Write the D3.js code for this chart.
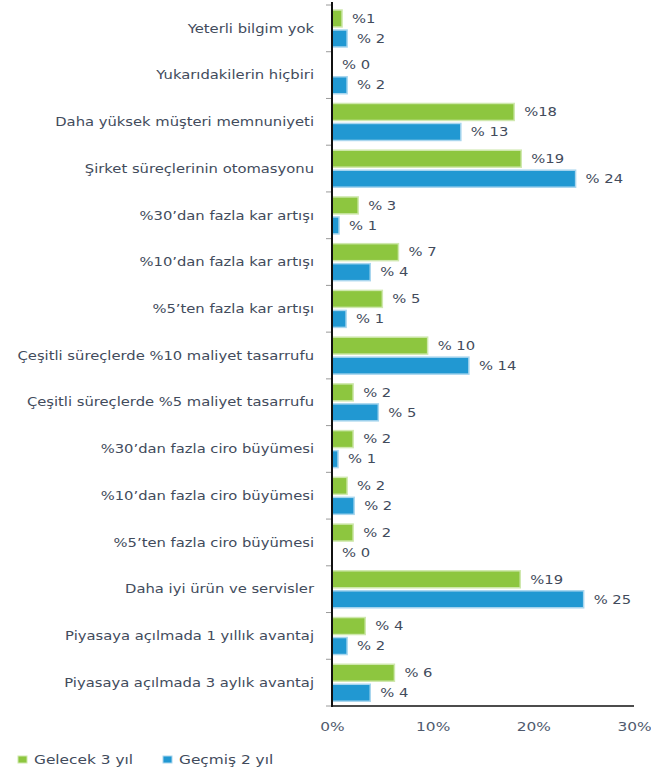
<!DOCTYPE html>
<html>
<head>
<meta charset="utf-8">
<script src="https://cdn.jsdelivr.net/npm/d3@7"></script>
<style>
  body { margin: 0; background: #fff; }
  text { font-family: "DejaVu Sans", sans-serif; }
</style>
</head>
<body>
<div id="chart"></div>
<script>
// Chart data
var categories = [
  "Yeterli bilgim yok",
  "Yukarıdakilerin hiçbiri",
  "Daha yüksek müşteri memnuniyeti",
  "Şirket süreçlerinin otomasyonu",
  "%30’dan fazla kar artışı",
  "%10’dan fazla kar artışı",
  "%5’ten fazla kar artışı",
  "Çeşitli süreçlerde %10 maliyet tasarrufu",
  "Çeşitli süreçlerde %5 maliyet tasarrufu",
  "%30’dan fazla ciro büyümesi",
  "%10’dan fazla ciro büyümesi",
  "%5’ten fazla ciro büyümesi",
  "Daha iyi ürün ve servisler",
  "Piyasaya açılmada 1 yıllık avantaj",
  "Piyasaya açılmada 3 aylık avantaj"
];
var seriesNames = ["Gelecek 3 yıl", "Geçmiş 2 yıl"];

// bar lengths
var futureValues = [1.0, 0, 18.1, 18.8, 2.6, 6.6, 5.0, 9.5, 2.1, 2.1, 1.5, 2.1, 18.7, 3.3, 6.2];
var pastValues = [1.5, 1.5, 12.8, 24.2, 0.7, 3.8, 1.4, 13.6, 4.6, 0.6, 2.2, 0, 25.0, 1.5, 3.8];

// printed value labels
var futureLabels = ["%1", "% 0", "%18", "%19", "% 3", "% 7", "% 5", "% 10", "% 2", "% 2", "% 2", "% 2", "%19", "% 4", "% 6"];
var pastLabels = ["% 2", "% 2", "% 13", "% 24", "% 1", "% 4", "% 1", "% 14", "% 5", "% 1", "% 2", "% 0", "% 25", "% 2", "% 4"];

var xTicks = [0, 10, 20, 30];

var svgWidth = 651;
var svgHeight = 768;
var margin = { top: 5, left: 332, right: 17, bottom: 62 };

// the original text is drawn wide, so glyphs get stretched sideways
var sx = 1.23;
var fontSize = "12px";

var svg = d3.select("#chart")
  .append("svg")
  .attr("width", svgWidth)
  .attr("height", svgHeight);

var x = d3.scaleLinear()
  .domain([0, 30])
  .range([margin.left, svgWidth - margin.right]);

var y = d3.scaleBand()
  .domain(categories)
  .range([margin.top, svgHeight - margin.bottom]);

var colors = { future: "#8dc63f", past: "#2198d2" };
var edges = { future: "#cfe8ae", past: "#a9d6ee" };
var textColor = "#424b5c";

var rows = categories.map(function (c, i) {
  return {
    cat: c,
    future: futureValues[i],
    past: pastValues[i],
    futureLabel: futureLabels[i],
    pastLabel: pastLabels[i]
  };
});

var barH = 17;

// place a text at (px, py) and stretch it
function wideText(sel, px, py) {
  sel.attr("transform", (d, i) => `translate(${px(d, i)}, ${py(d, i)}) scale(${sx}, 1)`)
    .attr("dy", "0.35em")
    .attr("font-size", fontSize)
    .attr("fill", textColor);
}

// green bars
svg.selectAll(".bar-future")
  .data(rows)
  .enter()
  .append("rect")
  .attr("class", "bar-future")
  .attr("x", x(0))
  .attr("y", d => y(d.cat) + 5)
  .attr("width", d => x(d.future) - x(0))
  .attr("height", barH)
  .attr("fill", colors.future)
  .attr("stroke", d => d.future > 0 ? edges.future : "none")
  .attr("stroke-width", 1.5);

// blue bars
svg.selectAll(".bar-past")
  .data(rows)
  .enter()
  .append("rect")
  .attr("class", "bar-past")
  .attr("x", x(0))
  .attr("y", d => y(d.cat) + 25)
  .attr("width", d => x(d.past) - x(0))
  .attr("height", barH)
  .attr("fill", colors.past)
  .attr("stroke", d => d.past > 0 ? edges.past : "none")
  .attr("stroke-width", 1.5);

// value labels
svg.selectAll(".lbl-future")
  .data(rows)
  .enter()
  .append("text")
  .call(wideText, d => x(d.future) + 10, d => y(d.cat) + 5 + barH / 2)
  .text(d => d.futureLabel);

svg.selectAll(".lbl-past")
  .data(rows)
  .enter()
  .append("text")
  .call(wideText, d => x(d.past) + 10, d => y(d.cat) + 25 + barH / 2)
  .text(d => d.pastLabel);

// category labels
svg.selectAll(".cat")
  .data(categories)
  .enter()
  .append("text")
  .call(wideText, () => margin.left - 18, d => y(d) + y.bandwidth() / 2)
  .attr("text-anchor", "end")
  .text(d => d);

// y axis ticks between categories
var bounds = categories.map(c => y(c)).concat([y.range()[1]]);
svg.selectAll(".ytick")
  .data(bounds)
  .enter()
  .append("line")
  .attr("x1", margin.left - 6)
  .attr("x2", margin.left)
  .attr("y1", d => d)
  .attr("y2", d => d)
  .attr("stroke", "#9a9a9a")
  .attr("stroke-width", 1);

// axis lines
svg.append("line")
  .attr("x1", margin.left)
  .attr("x2", margin.left)
  .attr("y1", 2)
  .attr("y2", y.range()[1] + 1)
  .attr("stroke", "#111")
  .attr("stroke-width", 2);

svg.append("line")
  .attr("x1", margin.left)
  .attr("x2", x(30))
  .attr("y1", y.range()[1])
  .attr("y2", y.range()[1])
  .attr("stroke", "#111")
  .attr("stroke-width", 1.5);

// x axis tick labels
var bottomAxis = d3.axisBottom(x)
  .tickValues(xTicks)
  .tickSize(0)
  .tickPadding(16)
  .tickFormat(d => d + "%");

var xg = svg.append("g")
  .attr("transform", `translate(0, ${y.range()[1]})`)
  .call(bottomAxis);
xg.select(".domain").remove();
xg.selectAll("text")
  .attr("font-family", "DejaVu Sans, sans-serif")
  .attr("font-size", "12.5px")
  .attr("fill", "#4f5a6e")
  .attr("transform", `scale(${sx}, 1)`);

// legend
var legend = svg.append("g")
  .attr("transform", "translate(18, 760)");

var legendItems = legend.selectAll("g")
  .data(seriesNames)
  .enter()
  .append("g")
  .attr("transform", (d, i) => `translate(${i * 145}, 0)`);

legendItems.append("rect")
  .attr("x", 0)
  .attr("y", -4)
  .attr("width", 9)
  .attr("height", 7)
  .attr("fill", (d, i) => i === 0 ? colors.future : colors.past)
  .attr("stroke", (d, i) => i === 0 ? edges.future : edges.past)
  .attr("stroke-width", 1);

legendItems.append("text")
  .call(wideText, () => 16, () => 0)
  .attr("font-size", "12.5px")
  .text(d => d);
</script>
</body>
</html>
